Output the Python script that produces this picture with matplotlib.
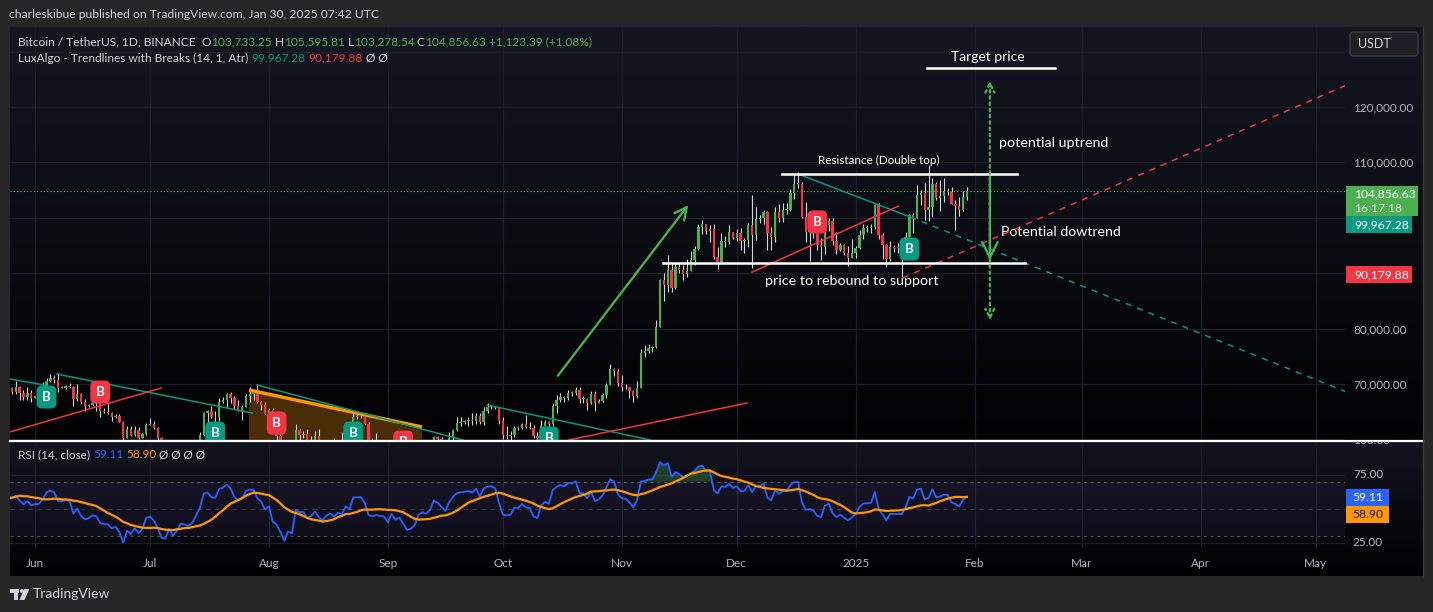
import numpy as np
import pandas as pd
import matplotlib
matplotlib.use("Agg")
import matplotlib.pyplot as plt
import matplotlib.dates as mdates
from matplotlib.transforms import blended_transform_factory as blend
from matplotlib.patches import Rectangle, FancyBboxPatch, Polygon, Circle

plt.rcParams['font.family'] = ['Lato', 'DejaVu Sans']

# ---------------- data (BTC/USDT daily, 2024-05-25 .. 2025-01-30) ----------------
start = "2024-05-25"
close = [
    69290, 68510, 69390, 68360, 67630, 68360, 67530,
    67760, 67820, 68800, 70570, 71090, 70800, 69350, 69310, 69650, 69510,
    67320, 68240, 66760, 66010, 66190, 66640, 66490, 65150, 64960, 64830,
    64100, 64250, 63180, 60280, 61800, 60860, 61670, 60320, 60890, 62680,
    62850, 62030, 60200, 57030, 56640, 58230, 55850, 56700, 58050, 57720,
    57340, 57890, 59200, 60800, 64720, 65040, 64090, 63970, 66700, 67150,
    68190, 67550, 65960, 65360, 65800, 67900, 68250, 68260, 66790, 66190, 64620,
    65350, 61500, 60700, 58160, 54000, 56030, 55120, 61700, 60880, 60940,
    58710, 59350, 60600, 58740, 57560, 58880, 59480, 58440, 59490, 59020,
    61160, 60380, 64090, 64160, 64220, 62830, 59420, 59030, 59370, 59120, 58970,
    57300, 59130, 57480, 57970, 56160, 53950, 54160, 54870, 57050, 57640,
    57340, 58130, 60500, 59990, 59130, 58210, 60310, 61760, 62950, 63200,
    63350, 63580, 63330, 64300, 63140, 65180, 65790, 65880, 65600, 63330,
    60800, 60650, 60750, 62090, 62060, 62820, 62220, 62130, 60580, 60270,
    62450, 63200, 62850, 66050, 67040, 67610, 67400, 68420, 68360, 69000,
    67370, 67370, 66650, 68160, 66640, 67020, 67930, 69900, 72720, 72340, 70220,
    69490, 69370, 68740, 67810, 69360, 75640, 75900, 76540, 76680, 80370,
    88700, 87960, 90580, 87250, 91060, 90560, 89850, 90460, 92310, 94290,
    98350, 98890, 97670, 97900, 93010, 91960, 95860, 95640, 97460, 96410,
    97190, 95840, 96000, 98770, 96940, 99830, 99920, 101120, 97340, 96620,
    101120, 100000, 101400, 101420, 104460, 106060, 106140, 100200, 97460, 97760,
    97220, 95100, 94690, 98700, 99420, 95790, 94230, 95130, 93720, 92800, 93580,
    94600, 96890, 98100, 98230, 98320, 102250, 96950, 95040, 92480, 94700,
    94570, 94520, 94520, 96530, 100500, 99990, 104080, 104560, 101330, 102010,
    106150, 103650, 103920, 104800, 104720, 102580, 102090, 101330, 103733.25, 104856.63,
]
high = [
    69560, 69500, 70600, 69550, 68900, 69500, 69000,
    67860, 68450, 70280, 71060, 71740, 71650, 71990, 69560, 69860, 70150,
    69570, 69980, 68450, 67300, 66400, 66960, 67250, 66500, 65720, 66480,
    65000, 64520, 64500, 63370, 62360, 62480, 62360, 62200, 61200, 63050,
    63860, 63290, 62300, 60450, 57500, 58500, 58430, 58250, 58270, 59450,
    59400, 58500, 59850, 61400, 64900, 65380, 66100, 65100, 67440, 67600,
    68370, 68480, 67800, 67100, 66150, 68200, 69400, 68350, 70080, 66990, 66800,
    65600, 65590, 62170, 61100, 58300, 57000, 57720, 62750, 61800, 61470,
    61860, 60700, 61580, 61800, 59850, 59800, 59650, 60290, 59620, 61400,
    61800, 61400, 64950, 64500, 65000, 64480, 63200, 60200, 61180, 59800, 59450,
    59050, 59390, 59800, 58500, 58300, 56980, 54850, 55300, 58100, 58050,
    57980, 58600, 60650, 60650, 60400, 59200, 61350, 61800, 64130, 64100,
    63550, 64000, 64750, 64800, 64700, 65800, 66500, 66250, 66100, 65550,
    64130, 62370, 61450, 62500, 62370, 62980, 64480, 63200, 62550, 61320,
    63420, 63480, 63300, 66500, 67950, 68420, 67900, 68990, 68680, 69400,
    69500, 67830, 67450, 68800, 68700, 67300, 68330, 70250, 73620, 72960, 72670,
    71630, 70000, 69450, 69000, 70570, 76400, 76950, 77200, 76900, 81500,
    89000, 89950, 93270, 91800, 91850, 91770, 91450, 92600, 94000, 94900,
    98890, 99590, 98730, 98650, 98870, 94700, 97200, 96650, 98700, 97460,
    97900, 98150, 96300, 99000, 104090, 101900, 100550, 101350, 101200, 98270,
    101900, 102540, 102650, 102650, 105250, 107790, 108350, 106500, 102800, 98150,
    99540, 97370, 96400, 99400, 99960, 99880, 97500, 95500, 95200, 94900, 96150,
    94930, 97800, 98950, 98700, 98800, 102480, 102700, 97250, 95350, 95800,
    95000, 95400, 95900, 97350, 100680, 100850, 105900, 104980, 106300, 109590,
    107250, 106400, 106850, 107100, 105300, 105500, 103200, 103780, 104800, 105595.81,
]
low = [
    68900, 68220, 68240, 67200, 67100, 67130, 66670,
    67440, 67300, 67620, 68550, 70410, 70150, 68500, 69210, 69140, 69230,
    66050, 66900, 66300, 65080, 65880, 66050, 65100, 64060, 64700, 64550,
    63380, 63950, 63150, 58400, 60270, 60700, 60600, 60000, 60300, 60780,
    62580, 61800, 59420, 56780, 53500, 56000, 55750, 54260, 56300, 57150,
    57000, 56550, 57750, 59200, 60640, 62420, 63900, 63220, 63300, 66500,
    65770, 66580, 65450, 65100, 63450, 65800, 66800, 67070, 66600, 65300, 64520,
    62250, 61120, 59850, 57200, 49000, 53950, 54550, 54750, 59550, 60260,
    58300, 57650, 58450, 58400, 56100, 57000, 58800, 58380, 57860, 58600,
    58800, 59800, 60340, 63600, 63800, 62800, 58100, 57860, 58780, 57750, 58770,
    57200, 57150, 57400, 55600, 55650, 52550, 53750, 53650, 54600, 56400,
    55550, 57330, 57630, 59500, 58700, 57500, 57600, 59200, 61580, 62350,
    62780, 62350, 62560, 62720, 62700, 62650, 64830, 65430, 65450, 62850,
    60160, 59990, 59830, 60450, 61700, 61830, 62120, 61860, 60300, 58950,
    60400, 62460, 62020, 62400, 64800, 66750, 66700, 67170, 67900, 68100,
    66570, 66570, 65260, 66460, 65060, 66570, 66780, 67480, 69730, 71440, 69680,
    68800, 69020, 67450, 66830, 67460, 69300, 74800, 75600, 75700, 76490,
    80200, 85070, 86600, 86670, 87090, 90090, 88720, 89370, 90900, 91500,
    94100, 97140, 97160, 95700, 92600, 90790, 91800, 94670, 95360, 96160,
    95770, 94150, 93580, 94660, 91000, 95980, 99020, 98850, 94150, 94250,
    95690, 99310, 99200, 100600, 101220, 103330, 105320, 100000, 95700, 92230,
    96400, 94200, 92400, 93400, 97600, 95140, 93500, 94000, 93300, 91350, 92900,
    92800, 94400, 96200, 97500, 97270, 97900, 96100, 92500, 91200, 92200,
    93800, 93700, 89250, 94300, 96500, 97300, 99950, 102270, 99550, 99500,
    100100, 103300, 101250, 102800, 104100, 102450, 97800, 100250, 101250, 103278.54,
]
# closes before the visible range, only used to warm up the RSI
warmup_close = [
    64940, 64940, 66840, 66400, 64300, 64500, 63770, 63460, 63120, 63840, 60640,
    58250, 59120, 62890, 63890, 64010, 63160, 62330, 61190, 63070, 60800, 60830,
    61480, 62940, 61580, 66270, 65230, 67050, 66940, 66280, 71450, 70140, 69120,
    67930, 68530,
]
month_labels = ["Jun", "Jul", "Aug", "Sep", "Oct", "Nov", "Dec", "2025",
                "Feb", "Mar", "Apr", "May"]
price_ticks = [70000, 80000, 110000, 120000]   # 90k/100k/130k sit under labels

# LuxAlgo trendlines and the author's drawings (date, price)
teal_lines = [
    (("2024-05-25 12:00", 70900), ("2024-06-03 14:00", 69800)),
    (("2024-06-06 17:00", 71800), ("2024-07-27 14:00", 64770)),
    (("2024-07-28 22:00", 69820), ("2024-09-20 14:00", 59900)),
    (("2024-09-26 22:00", 66210), ("2024-11-08 10:00", 59900)),
    (("2024-12-17 00:00", 107900), ("2025-01-15 05:00", 100150)),
]
red_lines = [
    (("2024-05-25 12:00", 61350), ("2024-07-03 22:00", 69280)),
    (("2024-10-18 05:00", 59900), ("2024-12-03 17:00", 66570)),
    (("2024-12-05 00:00", 90200), ("2025-01-12 02:00", 102100)),
]
teal_dashed = (("2025-01-15 05:00", 100150), ("2025-05-09 14:00", 68400))
red_dashed = (("2025-01-13 07:00", 89150), ("2025-05-09 14:00", 124150))
channel_top = (("2024-07-26 19:00", 68920), ("2024-09-09 22:00", 62240))
breaks = [  # (date, price, kind)
    ("2024-06-04", 67650, "up"), ("2024-06-18", 68550, "down"),
    ("2024-07-18", 61150, "up"), ("2024-08-03", 62950, "down"),
    ("2024-08-23", 61150, "up"), ("2024-09-05", 59500, "down"),
    ("2024-10-13", 60250, "up"), ("2024-12-22", 99250, "down"),
    ("2025-01-15", 94350, "up"),
]
resistance = 107900
support = 91850

GREEN = "#4caf50"
RED = "#f23645"
TEAL = "#089981"
TXT = "#d1d4dc"
AXT = "#b2b5be"
GRID = "#1c1f2b"

W, H = 1433, 612
P = mdates.datestr2num


def rect(x0, y0, x1, y1):
    return [x0 / W, 1 - y1 / H, (x1 - x0) / W, (y1 - y0) / H]


dates = pd.date_range(start, periods=len(close), freq="D")
x = mdates.date2num(dates)
c = np.array(close, float)
o = np.r_[warmup_close[-1], c[:-1]]
hi = np.maximum(np.array(high, float), np.maximum(o, c))
lo = np.minimum(np.array(low, float), np.minimum(o, c))

allc = pd.Series(warmup_close + close, dtype=float)
d = allc.diff()
up = d.clip(lower=0).ewm(alpha=1 / 14, adjust=False).mean()
dn = (-d.clip(upper=0)).ewm(alpha=1 / 14, adjust=False).mean()
rsi_all = 100 - 100 / (1 + up / dn)
rsi = rsi_all.values[len(warmup_close):]
rsi_ma = rsi_all.rolling(14).mean().values[len(warmup_close):]

fig = plt.figure(figsize=(W / 100, H / 100), dpi=100, facecolor="#262626")


# pane backgrounds (gradients)
def gradient(r, top, bottom):
    b = fig.add_axes(r)
    t = np.array(matplotlib.colors.to_rgb(top))
    bt = np.array(matplotlib.colors.to_rgb(bottom))
    g = np.linspace(0, 1, 200)[:, None, None]
    img = t * (1 - g) + bt * g
    b.imshow(img, aspect="auto", extent=(0, 1, 0, 1))
    b.set_xlim(0, 1)
    b.set_ylim(0, 1)
    b.axis("off")
    return b


bg_main = gradient(rect(10, 27, 1423, 440), "#141722", "#020203")
bg_rsi = gradient(rect(10, 441, 1423, 576), "#121420", "#010102")

ax = fig.add_axes(rect(10, 27, 1345, 440))
ar = fig.add_axes(rect(10, 441, 1345, 548))
x0 = P("2024-06-01")
months = mdates.date2num(pd.date_range("2024-06-01", "2025-05-01", freq="MS"))
for a in (ax, ar):
    a.patch.set_alpha(0)
    a.set_xlim(x0 - 6.52, x0 + 341.6)
    for s in a.spines.values():
        s.set_visible(False)
    for m in months:
        a.axvline(m, color=GRID, lw=0.9, zorder=0)

# ---------------- price pane ----------------
ax.set_ylim(59892, 134440)
ax.yaxis.tick_right()
ax.set_yticks(price_ticks)
ax.set_yticklabels([f"{v:,.2f}" for v in price_ticks])
ax.tick_params(axis="y", length=0, pad=6, labelsize=8.5, labelcolor=AXT)
ax.set_xticks([])
for v in np.arange(60000, 140000, 10000):
    ax.axhline(v, color=GRID, lw=0.9, zorder=0)

# orange channel
(a0, t0), (a1, t1) = channel_top
ax.add_patch(Polygon([(P(a0), t0), (P(a1), t1), (P(a1), 50000), (P(a0), 50000)],
                     closed=True, fc="#4a2c06", ec="none", zorder=1))
ax.plot([P(a0), P(a1)], [t0, t1], color="#ff9800", lw=2.5, zorder=5,
        solid_capstyle="butt")

# candles
col = np.where(c >= o, GREEN, RED)
ax.vlines(x, lo, hi, color=TXT, lw=0.8, zorder=3)
body = np.maximum(np.abs(c - o), 150)
ax.bar(x, body, bottom=np.minimum(o, c), width=0.62, color=col, zorder=4,
       linewidth=0)

# current price line
ax.axhline(c[-1], color=GREEN, lw=0.8, ls=(0, (1, 2)), zorder=2)

# trendlines
for (p0, v0), (p1, v1) in teal_lines:
    ax.plot([P(p0), P(p1)], [v0, v1], color=TEAL, lw=1.1, zorder=5)
for (p0, v0), (p1, v1) in red_lines:
    ax.plot([P(p0), P(p1)], [v0, v1], color=RED, lw=1.1, zorder=5)
(p0, v0), (p1, v1) = teal_dashed
ax.plot([P(p0), P(p1)], [v0, v1], color=TEAL, lw=1.1, ls=(0, (4, 4)), zorder=5)
(p0, v0), (p1, v1) = red_dashed
ax.plot([P(p0), P(p1)], [v0, v1], color=RED, lw=1.1, ls=(0, (4, 4)), zorder=5)

# break labels
for dt, v, kind in breaks:
    ax.text(P(dt), v, "B", ha="center", va="center", color="white", fontsize=9.5,
            fontweight="bold", zorder=7, clip_on=True,
            bbox=dict(boxstyle="round,pad=0.42", fc=TEAL if kind == "up" else RED,
                      ec="none"))

# author's drawings
ax.annotate("", xy=(P("2024-11-18 19:00"), 102700),
            xytext=(P("2024-10-14 22:00"), 71100),
            arrowprops=dict(arrowstyle="->", color=GREEN, lw=1.7, mutation_scale=22),
            zorder=8)
ax.plot([P("2024-12-12 19:00"), P("2025-02-12")], [resistance, resistance],
        color="white", lw=1.8, zorder=8)
ax.plot([P("2024-11-11 19:00"), P("2025-02-14 05:00")], [support, support],
        color="white", lw=1.8, zorder=8)
ax.text(P("2025-01-07"), 110300, "Resistance (Double top)", color="white",
        fontsize=8.4, ha="center", va="center", zorder=9)
ax.text(P("2024-12-31"), 88600, "price to rebound to support", color="white",
        fontsize=10.3, ha="center", va="center", zorder=9)
ax.annotate("", xy=(P("2025-02-05"), support), xytext=(P("2025-02-05"), resistance),
            arrowprops=dict(arrowstyle="->", color=GREEN, lw=1.7, mutation_scale=28),
            zorder=8)
ax.annotate("", xy=(P("2025-02-05"), 125200), xytext=(P("2025-02-05"), 81000),
            arrowprops=dict(arrowstyle="<->", color=GREEN, lw=1.7, ls=":",
                            mutation_scale=16),
            zorder=8)
ax.text(P("2025-02-04 12:00"), 129000, "Target price", color="white",
        fontsize=10, ha="center", va="center", zorder=9)
ax.plot([P("2025-01-19 14:00"), P("2025-02-22")], [127050, 127050],
        color="white", lw=1.8, zorder=8)
ax.text(P("2025-02-07 10:00"), 113500, "potential uptrend", color="white",
        fontsize=10.3, ha="left", va="center", zorder=9)
ax.text(P("2025-02-07 22:00"), 97450, "Potential dowtrend", color="white",
        fontsize=10.2, ha="left", va="center", zorder=9)

# ---------------- RSI pane ----------------
ar.set_ylim(21.3, 100)
ar.axhspan(30, 70, color="#7e57c2", alpha=0.09, lw=0, zorder=0)
ar.axhline(70, color="#787b86", lw=0.8, ls=(0, (3, 3)), alpha=0.6)
ar.axhline(30, color="#787b86", lw=0.8, ls=(0, (3, 3)), alpha=0.6)
ar.axhline(50, color="#787b86", lw=0.8, ls=(0, (4, 4)), alpha=0.35)
for v in (25, 75):
    ar.axhline(v, color=GRID, lw=0.9, zorder=0)
ar.fill_between(x, 70, rsi, where=rsi > 70, interpolate=True, color=GREEN,
                alpha=0.3, lw=0)
ar.plot(x, rsi, color="#2962ff", lw=1.3, zorder=4)
ar.plot(x, rsi_ma, color="#ff9800", lw=1.6, zorder=5)
ar.set_yticks([])
ar.set_xticks(months)
ar.set_xticklabels(month_labels)
ar.tick_params(axis="x", length=0, pad=7, labelsize=8.5, labelcolor=AXT)

# ---------------- overlay (UI texts, price scale boxes) ----------------
ov = fig.add_axes([0, 0, 1, 1])
ov.set_xlim(0, W)
ov.set_ylim(H, 0)
ov.axis("off")
ov.patch.set_alpha(0)

ov.plot([10, 1423], [440.5, 440.5], color="white", lw=1.6)
ov.plot([1423, 1423], [27, 576], color="#3a3a3a", lw=1)

tr = blend(ov.transData, ar.transData)
for v in (100, 75, 25):
    t = ov.text(1353, v, f"{v:.2f}", transform=tr, color=AXT, fontsize=8.5,
                va="center", ha="left", clip_on=True)
    t.set_clip_box(bg_rsi.bbox)

fig.canvas.draw()
rend = fig.canvas.get_renderer()


def seq(xp, yp, parts, size=8.6):
    for s, colr in parts:
        t = ov.text(xp, yp, s, color=colr, fontsize=size, va="center", ha="left")
        xp += t.get_window_extent(renderer=rend).width


fmt = lambda v: f"{v:,.2f}"
ov.text(9, 14, "charleskibue published on TradingView.com, Jan 30, 2025 07:42 UTC",
        color=TXT, fontsize=8.7, va="center", ha="left")
seq(18, 42, [("Bitcoin / TetherUS, 1D, BINANCE  ", TXT), ("O", TXT),
             (fmt(o[-1]), GREEN), (" H", TXT), (fmt(hi[-1]), GREEN),
             (" L", TXT), (fmt(lo[-1]), GREEN), (" C", TXT), (fmt(c[-1]), GREEN),
             (" +1,123.39 (+1.08%)", GREEN)])
seq(18, 58, [("LuxAlgo - Trendlines with Breaks (14, 1, Atr) ", TXT),
             ("99,967.28", TEAL), (" ", TXT), ("90,179.88", RED), (" Ø Ø", TXT)])
seq(18, 455, [("RSI (14, close) ", TXT), ("59.11", "#2962ff"), (" ", TXT),
              ("58.90", "#ff9800"), (" Ø Ø Ø Ø", TXT)], size=8.5)

# USDT box
ov.add_patch(FancyBboxPatch((1350, 32), 68, 24, boxstyle="round,pad=0,rounding_size=4",
                            fc="#1f2025", ec="#3b3c42", lw=1))
ov.text(1358, 44.5, "USDT", color=TXT, fontsize=9, va="center", ha="left")

# price scale labels
ov.add_patch(Rectangle((1346, 186), 72, 30, fc=GREEN, ec="none"))
ov.text(1354, 194, fmt(c[-1]), color="white", fontsize=8.7, va="center")
ov.text(1354, 208, "16:17:18", color="#e3eee3", fontsize=8.7, va="center")
ov.add_patch(Rectangle((1346, 216), 66, 17, fc=TEAL, ec="none"))
ov.text(1354, 224.5, "99,967.28", color="white", fontsize=8.7, va="center")
ov.add_patch(Rectangle((1346, 266), 66, 17, fc=RED, ec="none"))
ov.text(1354, 274.5, "90,179.88", color="white", fontsize=8.7, va="center")
ov.add_patch(Rectangle((1346, 489), 43, 17, fc="#2962ff", ec="none"))
ov.text(1352, 497.5, "59.11", color="white", fontsize=8.7, va="center")
ov.add_patch(Rectangle((1346, 506), 43, 17, fc="#ff9800", ec="none"))
ov.text(1352, 514.5, "58.90", color="#1a1a1a", fontsize=8.7, va="center")

# TradingView logo + name
ov.add_patch(Rectangle((10, 589), 9, 3.5, fc=TXT, ec="none"))
ov.add_patch(Rectangle((14, 589), 4.5, 11, fc=TXT, ec="none"))
ov.add_patch(Circle((21.8, 591), 1.9, fc=TXT, ec="none"))
ov.add_patch(Polygon([(24, 589), (29.5, 589), (24.5, 600), (19.5, 600)], fc=TXT, ec="none"))
ov.text(33, 594.5, "TradingView", color=TXT, fontsize=10, va="center", ha="left")

fig.savefig("out.png", dpi=100, facecolor=fig.get_facecolor())
